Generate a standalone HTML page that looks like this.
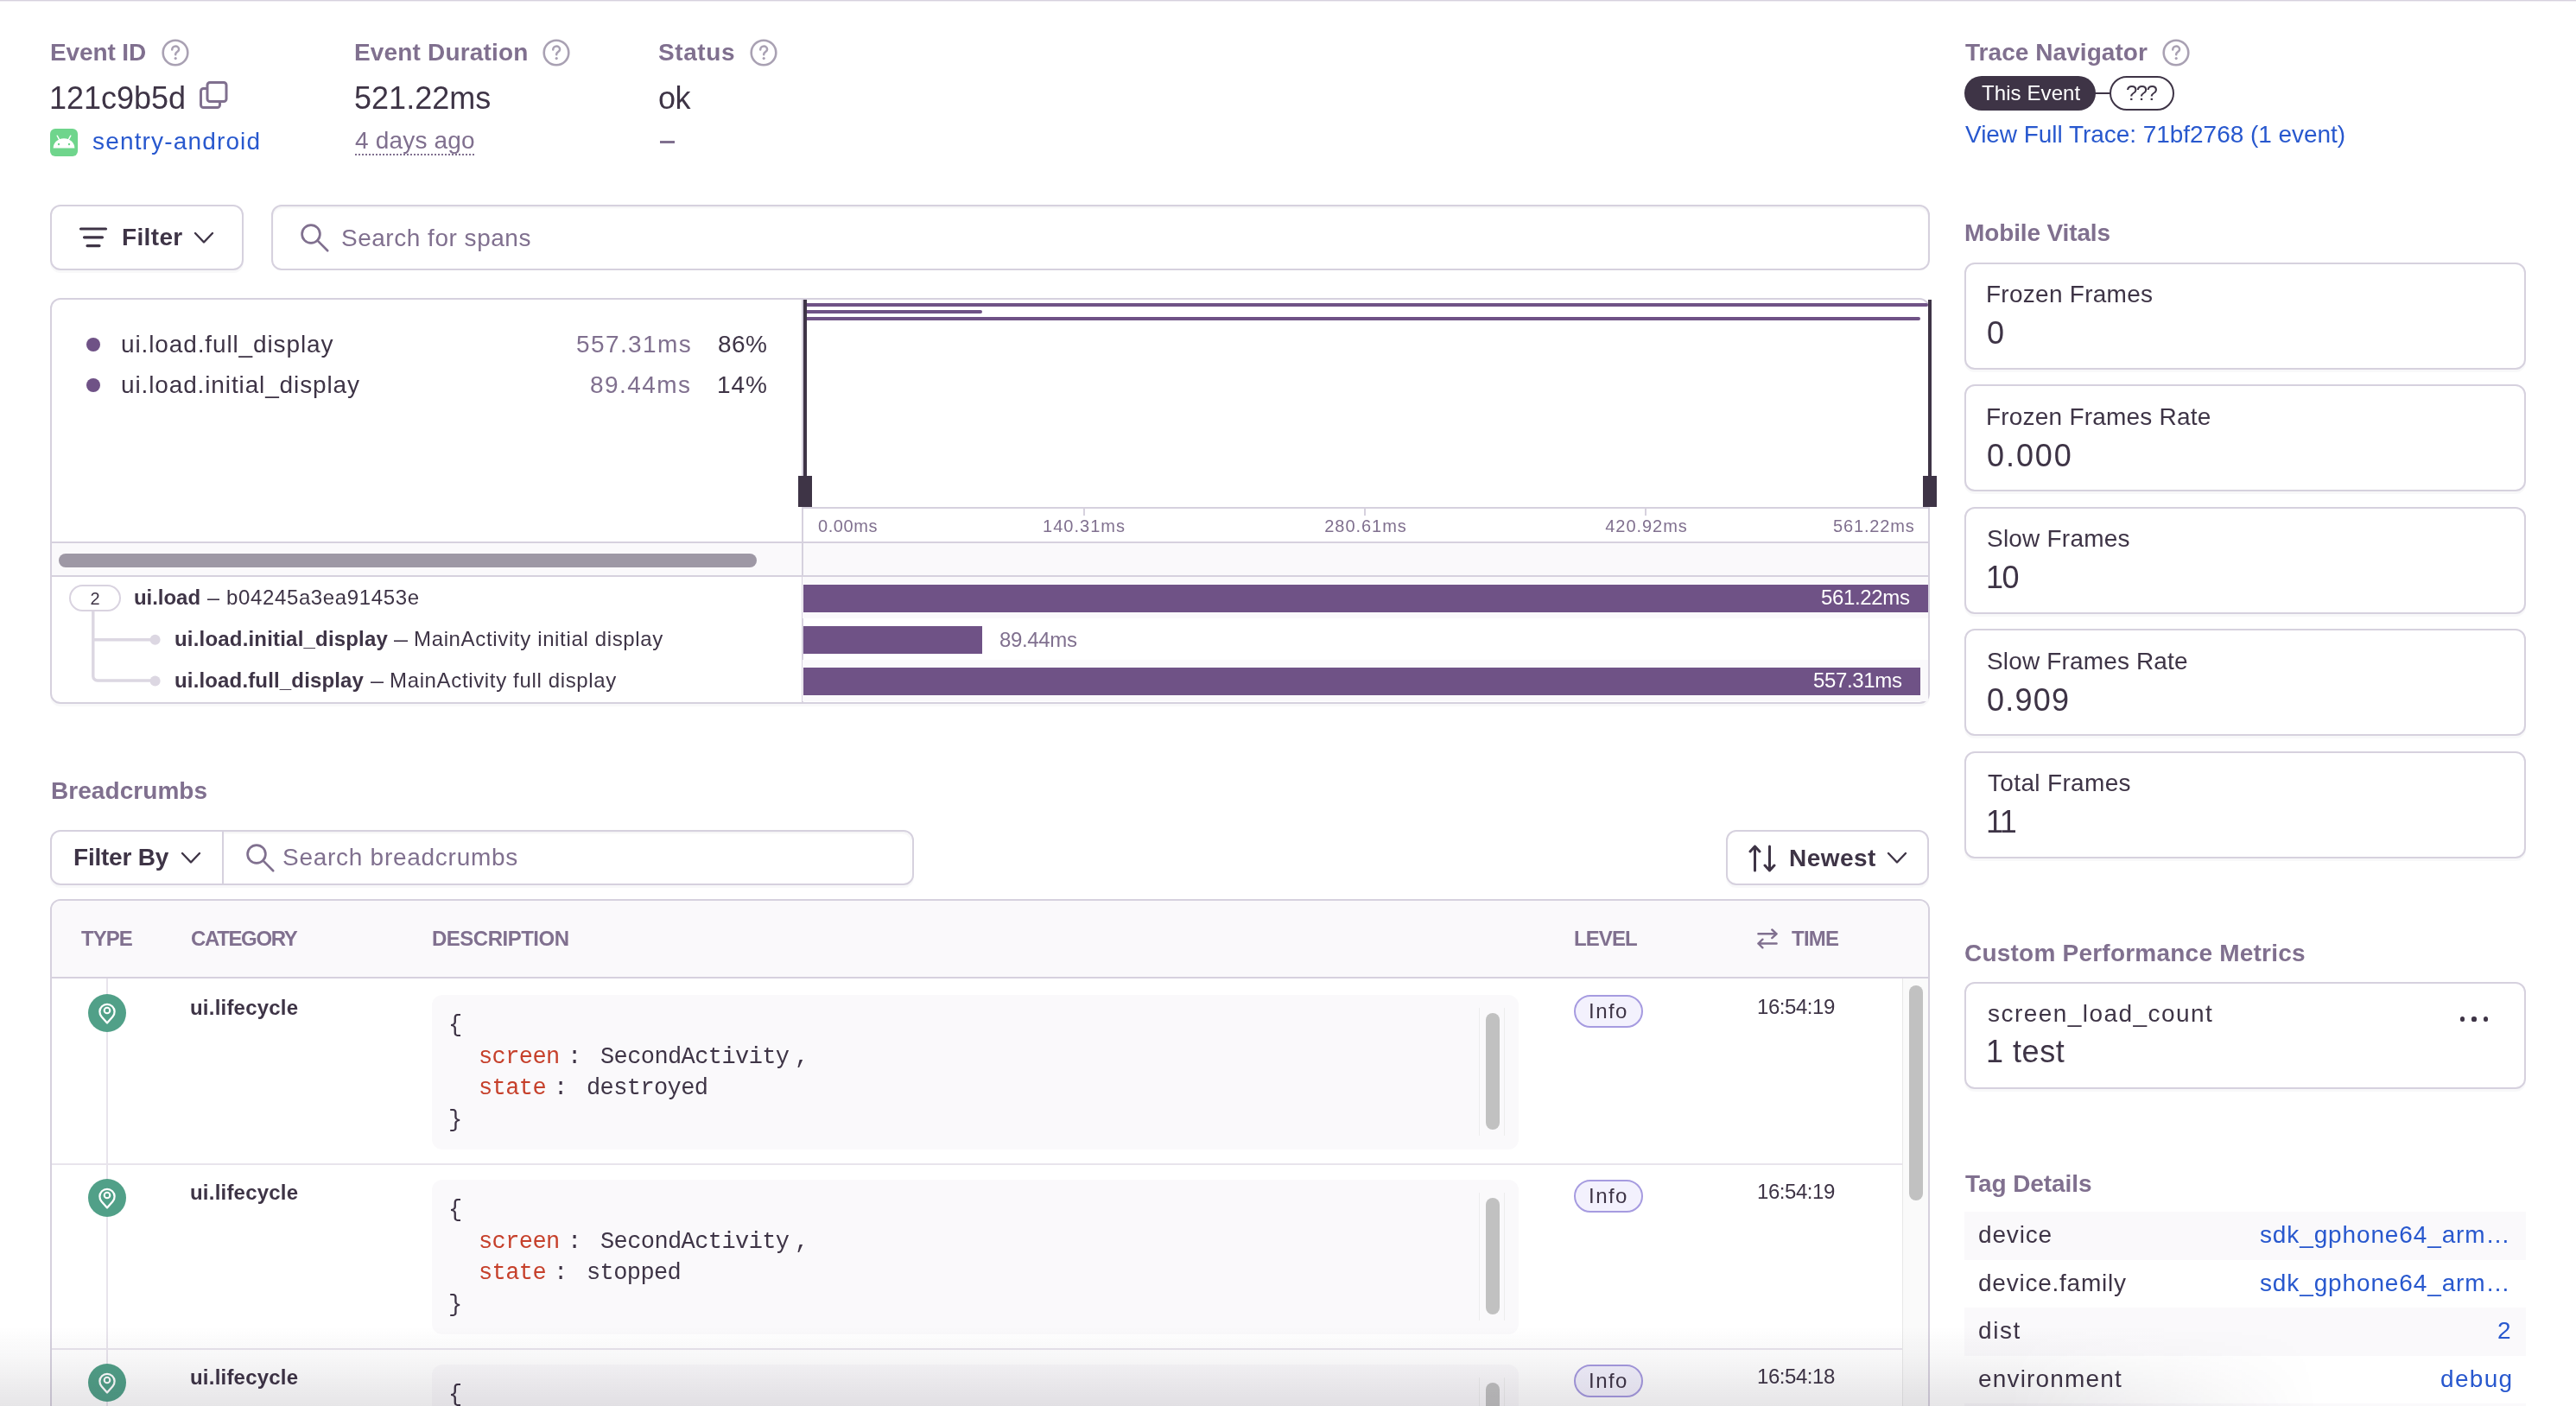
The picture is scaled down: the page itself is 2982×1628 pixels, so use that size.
<!DOCTYPE html>
<html><head><meta charset="utf-8"><title>Sentry transaction</title>
<style>
html,body{margin:0;padding:0;background:#fff;}
html{width:2982px;height:1628px;overflow:hidden;}
body{width:2982px;height:1628px;overflow:hidden;position:relative;font-family:'Liberation Sans', Arial, sans-serif;-webkit-font-smoothing:antialiased;}
.t{position:absolute;white-space:pre;will-change:transform;}
.b{position:absolute;}
</style></head><body>
<div class="b" style="left:0px;top:0px;width:2982px;height:1px;background:#D6D1DE"></div>
<div class="b" style="left:0px;top:1px;width:2982px;height:1px;background:#F1EEF4"></div>
<div class="t" id="h_eid" style="top:47.3px;font-size:28px;line-height:28px;font-weight:600;color:#80708F;font-family:'Liberation Sans', Arial, sans-serif;left:59px;letter-spacing:-0.115px;margin-left:-1.00px;">Event ID</div>
<svg class="b" style="left:187px;top:45px" width="32" height="32" viewBox="0 0 32 32"><circle cx="16" cy="16" r="14.3" fill="none" stroke="#A9A1B3" stroke-width="2.6"/><path d="M12.2 12.6c0-2.4 1.8-4.1 4-4.1s3.9 1.6 3.9 3.7c0 2.6-3.3 2.8-3.9 5.3v0.8" fill="none" stroke="#A9A1B3" stroke-width="2.5" stroke-linecap="round"/><circle cx="16.2" cy="22.6" r="1.6" fill="#A9A1B3"/></svg>
<div class="t" id="h_id" style="top:95.5px;font-size:36px;line-height:36px;font-weight:400;color:#3E3446;font-family:'Liberation Sans', Arial, sans-serif;left:59px;letter-spacing:-0.018px;margin-left:-2.00px;">121c9b5d</div>
<svg class="b" style="left:229px;top:92px" width="36" height="36" viewBox="0 0 36 36"><rect x="3.5" y="10.5" width="22" height="22" rx="3" fill="none" stroke="#80708F" stroke-width="3"/><rect x="11" y="3.5" width="22" height="22" rx="3" fill="#fff" stroke="#80708F" stroke-width="3"/></svg>
<svg class="b" style="left:58px;top:149px" width="32" height="32" viewBox="0 0 32 32"><rect x="0" y="0" width="32" height="32" rx="6" fill="#6FD58C"/><path d="M3.6 22.6 A12.4 11.4 0 0 1 28.4 22.6 Z" fill="#fff"/><path d="M8.2 8.2 L10.6 12.6 M23.8 8.2 L21.4 12.6" stroke="#fff" stroke-width="1.4" stroke-linecap="round"/><circle cx="10" cy="18" r="1.2" fill="#6FD58C"/><circle cx="22" cy="18" r="1.2" fill="#6FD58C"/></svg>
<div class="t" id="h_proj" style="top:150.3px;font-size:28px;line-height:28px;font-weight:400;color:#2858CE;font-family:'Liberation Sans', Arial, sans-serif;left:107px;letter-spacing:1.161px;">sentry-android</div>
<div class="t" id="h_dur" style="top:47.3px;font-size:28px;line-height:28px;font-weight:600;color:#80708F;font-family:'Liberation Sans', Arial, sans-serif;left:411px;letter-spacing:0.175px;margin-left:-1.00px;">Event Duration</div>
<svg class="b" style="left:628px;top:45px" width="32" height="32" viewBox="0 0 32 32"><circle cx="16" cy="16" r="14.3" fill="none" stroke="#A9A1B3" stroke-width="2.6"/><path d="M12.2 12.6c0-2.4 1.8-4.1 4-4.1s3.9 1.6 3.9 3.7c0 2.6-3.3 2.8-3.9 5.3v0.8" fill="none" stroke="#A9A1B3" stroke-width="2.5" stroke-linecap="round"/><circle cx="16.2" cy="22.6" r="1.6" fill="#A9A1B3"/></svg>
<div class="t" id="h_durv" style="top:95.5px;font-size:36px;line-height:36px;font-weight:400;color:#3E3446;font-family:'Liberation Sans', Arial, sans-serif;left:411px;letter-spacing:0.029px;margin-left:-1.00px;">521.22ms</div>
<div class="t" id="h_ago" style="top:148.6px;font-size:28px;line-height:28px;font-weight:400;color:#80708F;font-family:'Liberation Sans', Arial, sans-serif;left:411px;letter-spacing:0.176px;text-decoration:underline dotted #80708F;text-decoration-thickness:2px;text-underline-offset:6px;">4 days ago</div>
<div class="t" id="h_st" style="top:47.3px;font-size:28px;line-height:28px;font-weight:600;color:#80708F;font-family:'Liberation Sans', Arial, sans-serif;left:762px;letter-spacing:0.600px;">Status</div>
<svg class="b" style="left:868px;top:45px" width="32" height="32" viewBox="0 0 32 32"><circle cx="16" cy="16" r="14.3" fill="none" stroke="#A9A1B3" stroke-width="2.6"/><path d="M12.2 12.6c0-2.4 1.8-4.1 4-4.1s3.9 1.6 3.9 3.7c0 2.6-3.3 2.8-3.9 5.3v0.8" fill="none" stroke="#A9A1B3" stroke-width="2.5" stroke-linecap="round"/><circle cx="16.2" cy="22.6" r="1.6" fill="#A9A1B3"/></svg>
<div class="t" id="h_ok" style="top:95.5px;font-size:36px;line-height:36px;font-weight:400;color:#3E3446;font-family:'Liberation Sans', Arial, sans-serif;left:763px;letter-spacing:-0.621px;margin-left:-1.00px;">ok</div>
<div class="b" style="left:764px;top:163px;width:17px;height:2.5px;background:#80708F"></div>
<div class="t" id="h_tn" style="top:47.3px;font-size:28px;line-height:28px;font-weight:600;color:#80708F;font-family:'Liberation Sans', Arial, sans-serif;left:2275px;letter-spacing:0.057px;">Trace Navigator</div>
<svg class="b" style="left:2503px;top:45px" width="32" height="32" viewBox="0 0 32 32"><circle cx="16" cy="16" r="14.3" fill="none" stroke="#A9A1B3" stroke-width="2.6"/><path d="M12.2 12.6c0-2.4 1.8-4.1 4-4.1s3.9 1.6 3.9 3.7c0 2.6-3.3 2.8-3.9 5.3v0.8" fill="none" stroke="#A9A1B3" stroke-width="2.5" stroke-linecap="round"/><circle cx="16.2" cy="22.6" r="1.6" fill="#A9A1B3"/></svg>
<div class="b" style="left:2274px;top:88px;width:152px;height:40px;background:#3E3446;border-radius:20px"></div>
<div class="t" id="h_this" style="top:95.7px;font-size:24px;line-height:24px;font-weight:400;color:#fff;font-family:'Liberation Sans', Arial, sans-serif;left:2293.5px;letter-spacing:0.088px;">This Event</div>
<div class="b" style="left:2425px;top:107px;width:19px;height:2px;background:#3E3446"></div>
<div class="b" style="left:2442px;top:88px;width:75px;height:40px;background:#fff;border:2px solid #3E3446;border-radius:20px;box-sizing:border-box"></div>
<div class="t" id="h_q" style="top:95.7px;font-size:24px;line-height:24px;font-weight:400;color:#3E3446;font-family:'Liberation Sans', Arial, sans-serif;left:2461px;letter-spacing:-1.598px;">???</div>
<div class="t" id="h_view" style="top:141.8px;font-size:28px;line-height:28px;font-weight:400;color:#2858CE;font-family:'Liberation Sans', Arial, sans-serif;left:2275px;letter-spacing:-0.041px;">View Full Trace: 71bf2768 (1 event)</div>
<div class="b" style="left:58px;top:237px;width:224px;height:76px;border:2px solid #D6D1DE;border-radius:12px;box-sizing:border-box;background:#fff;box-shadow:0 3px 1px rgba(43,34,51,0.03)"></div>
<svg class="b" style="left:90px;top:262px" width="36" height="26" viewBox="0 0 36 26"><path d="M3.5 3 H32.5 M7.5 12.8 H28.5 M11 22.6 H25" stroke="#3E3446" stroke-width="3.2" stroke-linecap="round"/></svg>
<div class="t" id="f_filter" style="top:261.3px;font-size:28px;line-height:28px;font-weight:600;color:#3E3446;font-family:'Liberation Sans', Arial, sans-serif;left:142px;letter-spacing:0.348px;margin-left:-1.00px;">Filter</div>
<svg class="b" style="left:224px;top:268px" width="24" height="14.5" viewBox="0 0 24 14.5"><path d="M2 2 L12.0 12.5 L22 2" fill="none" stroke="#3E3446" stroke-width="2.4" stroke-linecap="round" stroke-linejoin="round"/></svg>
<div class="b" style="left:314px;top:237px;width:1920px;height:76px;border:2px solid #D6D1DE;border-radius:12px;box-sizing:border-box;background:#fff;box-shadow:inset 0 2px 2px rgba(43,34,51,0.05)"></div>
<svg class="b" style="left:346px;top:258px" width="36" height="36" viewBox="0 0 36 36"><circle cx="14" cy="13" r="10.4" fill="none" stroke="#80708F" stroke-width="2.7"/><path d="M21.4 20.4 L33.2 32.2" stroke="#80708F" stroke-width="2.7" stroke-linecap="round"/></svg>
<div class="t" id="f_search" style="top:262.3px;font-size:28px;line-height:28px;font-weight:400;color:#80708F;font-family:'Liberation Sans', Arial, sans-serif;left:396px;letter-spacing:0.515px;margin-left:-1.00px;">Search for spans</div>
<div class="b" style="left:58px;top:345px;width:2176px;height:470px;border:2px solid #D6D1DE;border-radius:12px;box-sizing:border-box;background:#fff;box-shadow:0 3px 1px rgba(43,34,51,0.03)"></div>
<div class="b" style="left:100px;top:391px;width:16px;height:16px;background:#6F5286;border-radius:50%"></div>
<div class="t" id="l_n1" style="top:384.8px;font-size:28px;line-height:28px;font-weight:400;color:#3E3446;font-family:'Liberation Sans', Arial, sans-serif;left:141px;letter-spacing:0.878px;margin-left:-1.00px;">ui.load.full_display</div>
<div class="t" id="l_d1" style="top:384.8px;font-size:28px;line-height:28px;font-weight:400;color:#80708F;font-family:'Liberation Sans', Arial, sans-serif;right:2183.5px;letter-spacing:1.405px;margin-right:-2.41px;">557.31ms</div>
<div class="t" id="l_p1" style="top:384.8px;font-size:28px;line-height:28px;font-weight:400;color:#3E3446;font-family:'Liberation Sans', Arial, sans-serif;right:2095px;letter-spacing:0.428px;margin-right:-1.33px;">86%</div>
<div class="b" style="left:100px;top:438px;width:16px;height:16px;background:#6F5286;border-radius:50%"></div>
<div class="t" id="l_n2" style="top:431.8px;font-size:28px;line-height:28px;font-weight:400;color:#3E3446;font-family:'Liberation Sans', Arial, sans-serif;left:141px;letter-spacing:0.872px;margin-left:-1.00px;">ui.load.initial_display</div>
<div class="t" id="l_d2" style="top:431.8px;font-size:28px;line-height:28px;font-weight:400;color:#80708F;font-family:'Liberation Sans', Arial, sans-serif;right:2183.5px;letter-spacing:1.435px;margin-right:-2.44px;">89.44ms</div>
<div class="t" id="l_p2" style="top:431.8px;font-size:28px;line-height:28px;font-weight:400;color:#3E3446;font-family:'Liberation Sans', Arial, sans-serif;right:2095px;letter-spacing:0.928px;margin-right:-1.83px;">14%</div>
<div class="b" style="left:929px;top:587px;width:1303px;height:2px;background:#D6D1DE"></div>
<div class="b" style="left:60px;top:627px;width:2172px;height:2px;background:#D6D1DE"></div>
<div class="b" style="left:60px;top:629px;width:2172px;height:38px;background:#FAF9FB"></div>
<div class="b" style="left:60px;top:666px;width:2172px;height:2px;background:#D6D1DE"></div>
<div class="b" style="left:928px;top:347px;width:2px;height:466px;background:#D6D1DE"></div>
<div class="b" style="left:68px;top:641px;width:808px;height:16px;background:#9E98A5;border-radius:8px"></div>
<div class="b" style="left:933px;top:351px;width:1299px;height:4px;background:#6F5286;border-radius:0 2px 2px 0"></div>
<div class="b" style="left:933px;top:359px;width:204px;height:4px;background:#6F5286;border-radius:0 2px 2px 0"></div>
<div class="b" style="left:933px;top:367px;width:1290px;height:4px;background:#6F5286;border-radius:0 2px 2px 0"></div>
<div class="b" style="left:930px;top:347px;width:4px;height:205px;background:#3E3446"></div>
<div class="b" style="left:924px;top:551px;width:16px;height:36px;background:#3E3446"></div>
<div class="b" style="left:2232px;top:347px;width:4px;height:205px;background:#3E3446"></div>
<div class="b" style="left:2226px;top:551px;width:16px;height:36px;background:#3E3446"></div>
<div class="b" style="left:1254px;top:589px;width:2px;height:8px;background:#D6D1DE"></div>
<div class="b" style="left:1579px;top:589px;width:2px;height:8px;background:#D6D1DE"></div>
<div class="b" style="left:1904px;top:589px;width:2px;height:8px;background:#D6D1DE"></div>
<div class="t" id="ax0" style="top:598.6px;font-size:20px;line-height:20px;font-weight:400;color:#80708F;font-family:'Liberation Sans', Arial, sans-serif;left:947px;letter-spacing:0.563px;">0.00ms</div>
<div class="t" id="ax1" style="top:598.6px;font-size:20px;line-height:20px;font-weight:400;color:#80708F;font-family:'Liberation Sans', Arial, sans-serif;left:1255px;transform:translateX(-50%);letter-spacing:1.024px;">140.31ms</div>
<div class="t" id="ax2" style="top:598.6px;font-size:20px;line-height:20px;font-weight:400;color:#80708F;font-family:'Liberation Sans', Arial, sans-serif;left:1580.5px;transform:translateX(-50%);letter-spacing:0.953px;">280.61ms</div>
<div class="t" id="ax3" style="top:598.6px;font-size:20px;line-height:20px;font-weight:400;color:#80708F;font-family:'Liberation Sans', Arial, sans-serif;left:1906px;transform:translateX(-50%);letter-spacing:0.953px;">420.92ms</div>
<div class="t" id="ax4" style="top:598.6px;font-size:20px;line-height:20px;font-weight:400;color:#80708F;font-family:'Liberation Sans', Arial, sans-serif;right:766.5px;letter-spacing:0.853px;margin-right:-0.85px;">561.22ms</div>
<div class="b" style="left:929px;top:668px;width:1303px;height:48px;background:#FAF9FB"></div>
<div class="b" style="left:929px;top:764px;width:1303px;height:48px;background:#FAF9FB"></div>
<div class="b" style="left:930px;top:677px;width:1302px;height:32px;background:#6F5286"></div>
<div class="b" style="left:930px;top:725px;width:207px;height:32px;background:#6F5286"></div>
<div class="b" style="left:930px;top:773px;width:1293px;height:32px;background:#6F5286"></div>
<div class="t" id="sb1" style="top:680.2px;font-size:24px;line-height:24px;font-weight:400;color:#fff;font-family:'Liberation Sans', Arial, sans-serif;right:771px;letter-spacing:-0.343px;margin-right:0.34px;">561.22ms</div>
<div class="t" id="sb2" style="top:728.7px;font-size:24px;line-height:24px;font-weight:400;color:#80708F;font-family:'Liberation Sans', Arial, sans-serif;left:1158px;letter-spacing:-0.342px;margin-left:-1.00px;">89.44ms</div>
<div class="t" id="sb3" style="top:776.2px;font-size:24px;line-height:24px;font-weight:400;color:#fff;font-family:'Liberation Sans', Arial, sans-serif;right:780px;letter-spacing:-0.343px;margin-right:0.34px;">557.31ms</div>
<div class="b" style="left:80px;top:677px;width:60px;height:31px;border:2px solid #D9D3E0;border-radius:16px;box-sizing:border-box;background:#fff"></div>
<div class="t" id="tr_c" style="top:683.1px;font-size:20px;line-height:20px;font-weight:400;color:#3E3446;font-family:'Liberation Sans', Arial, sans-serif;left:110px;transform:translateX(-50%);">2</div>
<div class="t" id="tr1b" style="top:679.7px;font-size:24px;line-height:24px;font-weight:600;color:#3E3446;font-family:'Liberation Sans', Arial, sans-serif;left:156.4px;letter-spacing:-0.045px;margin-left:-1.00px;">ui.load</div>
<div class="t" id="tr1d" style="top:679.7px;font-size:24px;line-height:24px;font-weight:400;color:#3E3446;font-family:'Liberation Sans', Arial, sans-serif;left:240px;transform-origin:0 0;transform:scaleX(0.604);">—</div>
<div class="t" id="tr1r" style="top:679.7px;font-size:24px;line-height:24px;font-weight:400;color:#3E3446;font-family:'Liberation Sans', Arial, sans-serif;left:262.8px;letter-spacing:0.632px;margin-left:-1.00px;">b04245a3ea91453e</div>
<svg class="b" style="left:104px;top:708px" width="82" height="88" viewBox="0 0 82 88"><path d="M3.8 0 V75 a5 5 0 0 0 5 5 H72 M3.8 32.7 H72" fill="none" stroke="#DCD7E2" stroke-width="3.4"/><circle cx="75.6" cy="32.7" r="6" fill="#DCD7E2"/><circle cx="75.6" cy="80.6" r="6" fill="#DCD7E2"/></svg>
<div class="t" id="tr2b" style="top:727.7px;font-size:24px;line-height:24px;font-weight:600;color:#3E3446;font-family:'Liberation Sans', Arial, sans-serif;left:202.6px;letter-spacing:0.188px;margin-left:-1.00px;">ui.load.initial_display</div>
<div class="t" id="tr2d" style="top:727.7px;font-size:24px;line-height:24px;font-weight:400;color:#3E3446;font-family:'Liberation Sans', Arial, sans-serif;left:456px;transform-origin:0 0;transform:scaleX(0.646);">—</div>
<div class="t" id="tr2r" style="top:727.7px;font-size:24px;line-height:24px;font-weight:400;color:#3E3446;font-family:'Liberation Sans', Arial, sans-serif;left:480.2px;letter-spacing:0.650px;margin-left:-1.00px;">MainActivity initial display</div>
<div class="t" id="tr3b" style="top:776.2px;font-size:24px;line-height:24px;font-weight:600;color:#3E3446;font-family:'Liberation Sans', Arial, sans-serif;left:202.6px;letter-spacing:0.153px;margin-left:-1.00px;">ui.load.full_display</div>
<div class="t" id="tr3d" style="top:776.2px;font-size:24px;line-height:24px;font-weight:400;color:#3E3446;font-family:'Liberation Sans', Arial, sans-serif;left:429px;transform-origin:0 0;transform:scaleX(0.612);">—</div>
<div class="t" id="tr3r" style="top:776.2px;font-size:24px;line-height:24px;font-weight:400;color:#3E3446;font-family:'Liberation Sans', Arial, sans-serif;left:452.2px;letter-spacing:0.648px;margin-left:-1.00px;">MainActivity full display</div>
<div class="t" id="bc_t" style="top:902.3px;font-size:28px;line-height:28px;font-weight:600;color:#80708F;font-family:'Liberation Sans', Arial, sans-serif;left:60px;letter-spacing:0.056px;margin-left:-1.00px;">Breadcrumbs</div>
<div class="b" style="left:58px;top:961px;width:1000px;height:64px;border:2px solid #D6D1DE;border-radius:12px;box-sizing:border-box;background:#fff;box-shadow:0 3px 1px rgba(43,34,51,0.03)"></div>
<div class="b" style="left:259px;top:963px;width:796px;height:60px;box-shadow:inset 0 2px 2px rgba(43,34,51,0.05);border-radius:0 10px 10px 0"></div>
<div class="b" style="left:257px;top:963px;width:2px;height:60px;background:#D6D1DE"></div>
<div class="t" id="bc_fb" style="top:979.3px;font-size:28px;line-height:28px;font-weight:600;color:#3E3446;font-family:'Liberation Sans', Arial, sans-serif;left:86px;letter-spacing:-0.219px;margin-left:-1.00px;">Filter By</div>
<svg class="b" style="left:209px;top:986px" width="24" height="14.5" viewBox="0 0 24 14.5"><path d="M2 2 L12.0 12.5 L22 2" fill="none" stroke="#3E3446" stroke-width="2.4" stroke-linecap="round" stroke-linejoin="round"/></svg>
<svg class="b" style="left:283px;top:976px" width="36" height="36" viewBox="0 0 36 36"><circle cx="14" cy="13" r="10.4" fill="none" stroke="#80708F" stroke-width="2.7"/><path d="M21.4 20.4 L33.2 32.2" stroke="#80708F" stroke-width="2.7" stroke-linecap="round"/></svg>
<div class="t" id="bc_s" style="top:978.8px;font-size:28px;line-height:28px;font-weight:400;color:#80708F;font-family:'Liberation Sans', Arial, sans-serif;left:327.5px;letter-spacing:0.729px;margin-left:-1.00px;">Search breadcrumbs</div>
<div class="b" style="left:1998px;top:961px;width:235px;height:64px;border:2px solid #D6D1DE;border-radius:12px;box-sizing:border-box;background:#fff;box-shadow:0 3px 1px rgba(43,34,51,0.03)"></div>
<svg class="b" style="left:2023.5px;top:976.5px" width="36" height="34" viewBox="0 0 36 34"><path d="M7.5 31 V3 M2 9 L7.5 3 L13 9 M24.5 3 V31 M19 25 L24.5 31 L30 25" fill="none" stroke="#3E3446" stroke-width="3" stroke-linecap="round" stroke-linejoin="round"/></svg>
<div class="t" id="bc_new" style="top:979.8px;font-size:28px;line-height:28px;font-weight:600;color:#3E3446;font-family:'Liberation Sans', Arial, sans-serif;left:2072px;letter-spacing:0.457px;margin-left:-1.00px;">Newest</div>
<svg class="b" style="left:2184px;top:986px" width="24" height="14.5" viewBox="0 0 24 14.5"><path d="M2 2 L12.0 12.5 L22 2" fill="none" stroke="#3E3446" stroke-width="2.4" stroke-linecap="round" stroke-linejoin="round"/></svg>
<div class="b" style="left:58px;top:1041px;width:2176px;height:600px;border:2px solid #D6D1DE;border-radius:12px;box-sizing:border-box;background:#fff;overflow:hidden"></div>
<div class="b" style="left:60px;top:1043px;width:2172px;height:88px;background:#FAF9FB;border-radius:10px 10px 0 0"></div>
<div class="b" style="left:60px;top:1131px;width:2172px;height:2px;background:#D6D1DE"></div>
<div class="t" id="th1" style="top:1074.7px;font-size:24px;line-height:24px;font-weight:600;color:#80708F;font-family:'Liberation Sans', Arial, sans-serif;left:94px;letter-spacing:-0.992px;">TYPE</div>
<div class="t" id="th2" style="top:1074.7px;font-size:24px;line-height:24px;font-weight:600;color:#80708F;font-family:'Liberation Sans', Arial, sans-serif;left:221px;letter-spacing:-1.361px;">CATEGORY</div>
<div class="t" id="th3" style="top:1074.7px;font-size:24px;line-height:24px;font-weight:600;color:#80708F;font-family:'Liberation Sans', Arial, sans-serif;left:501px;letter-spacing:-0.498px;margin-left:-1.00px;">DESCRIPTION</div>
<div class="t" id="th4" style="top:1074.7px;font-size:24px;line-height:24px;font-weight:600;color:#80708F;font-family:'Liberation Sans', Arial, sans-serif;left:1823px;letter-spacing:-0.921px;margin-left:-1.00px;">LEVEL</div>
<svg class="b" style="left:2033px;top:1075px" width="26" height="24" viewBox="0 0 26 24"><path d="M2.4 6.3 H23.6 M18.3 1.5 L23.6 6.3 L18.3 11.1 M23.6 17.5 H2.4 M7.4 12.7 L2.4 17.5 L7.4 22.3" fill="none" stroke="#80708F" stroke-width="2.4" stroke-linecap="round" stroke-linejoin="round"/></svg>
<div class="t" id="th5" style="top:1074.7px;font-size:24px;line-height:24px;font-weight:600;color:#80708F;font-family:'Liberation Sans', Arial, sans-serif;left:2074px;letter-spacing:-0.773px;">TIME</div>
<div class="b" style="left:123px;top:1133px;width:2px;height:500px;background:#E8E4EC"></div>
<div class="b" style="left:2202px;top:1133px;width:1px;height:500px;background:#E8E8E8"></div>
<div class="b" style="left:2203px;top:1133px;width:29px;height:500px;background:#FAFAFA"></div>
<div class="b" style="left:2210px;top:1141px;width:16px;height:249px;background:#C1C1C1;border-radius:8px"></div>
<div class="b" style="left:102px;top:1151px;width:44px;height:44px;background:#fff;border-radius:50%"></div>
<svg class="b" style="left:102px;top:1151px" width="44" height="44" viewBox="0 0 44 44"><circle cx="22" cy="22" r="22" fill="#51A088"/><path d="M22 33.5 L15.6 26.2 A8.6 8.6 0 1 1 28.4 26.2 Z" fill="none" stroke="#fff" stroke-width="2.3" stroke-linejoin="round"/><circle cx="22" cy="19" r="3.3" fill="none" stroke="#fff" stroke-width="2.1"/></svg>
<div class="t" id="r0_cat" style="top:1154.7px;font-size:24px;line-height:24px;font-weight:600;color:#3E3446;font-family:'Liberation Sans', Arial, sans-serif;left:221px;letter-spacing:0.211px;margin-left:-1.00px;">ui.lifecycle</div>
<div class="b" style="left:500px;top:1151.5px;width:1258px;height:179px;background:#FAF9FB;border-radius:12px"></div>
<div class="b" style="left:1712px;top:1167px;width:1px;height:148px;background:#EDEDED"></div>
<div class="b" style="left:1741px;top:1167px;width:1px;height:148px;background:#EDEDED"></div>
<div class="b" style="left:1720px;top:1173px;width:16px;height:135px;background:#C1C1C1;border-radius:8px"></div>
<div class="t" id="r0_b1" style="top:1173.7px;font-size:27px;line-height:27px;font-weight:400;color:#3E3446;font-family:'Liberation Mono', 'DejaVu Sans Mono', monospace;left:518.5px;letter-spacing:-0.6px;">{</div>
<div class="t" id="r0_k1" style="top:1210.5px;font-size:27px;line-height:27px;font-weight:400;color:#C6402B;font-family:'Liberation Mono', 'DejaVu Sans Mono', monospace;left:553.5px;letter-spacing:-0.6px;">screen</div>
<div class="t" id="r0_c1" style="top:1210.5px;font-size:27px;line-height:27px;font-weight:400;color:#3E3446;font-family:'Liberation Mono', 'DejaVu Sans Mono', monospace;left:657.1px;letter-spacing:-0.6px;">:</div>
<div class="t" id="r0_v1" style="top:1210.5px;font-size:27px;line-height:27px;font-weight:400;color:#3E3446;font-family:'Liberation Mono', 'DejaVu Sans Mono', monospace;left:694.5px;letter-spacing:-0.6px;">SecondActivity</div>
<div class="t" id="r0_m1" style="top:1210.5px;font-size:27px;line-height:27px;font-weight:400;color:#3E3446;font-family:'Liberation Mono', 'DejaVu Sans Mono', monospace;left:919.5px;letter-spacing:-0.6px;">,</div>
<div class="t" id="r0_k2" style="top:1247.3px;font-size:27px;line-height:27px;font-weight:400;color:#C6402B;font-family:'Liberation Mono', 'DejaVu Sans Mono', monospace;left:553.5px;letter-spacing:-0.6px;">state</div>
<div class="t" id="r0_c2" style="top:1247.3px;font-size:27px;line-height:27px;font-weight:400;color:#3E3446;font-family:'Liberation Mono', 'DejaVu Sans Mono', monospace;left:640.6px;letter-spacing:-0.6px;">:</div>
<div class="t" id="r0_v2" style="top:1247.3px;font-size:27px;line-height:27px;font-weight:400;color:#3E3446;font-family:'Liberation Mono', 'DejaVu Sans Mono', monospace;left:678.8px;letter-spacing:-0.6px;">destroyed</div>
<div class="t" id="r0_b2" style="top:1284.1px;font-size:27px;line-height:27px;font-weight:400;color:#3E3446;font-family:'Liberation Mono', 'DejaVu Sans Mono', monospace;left:518.5px;letter-spacing:-0.6px;">}</div>
<div class="b" style="left:1822px;top:1151.5px;width:80px;height:38px;border:2px solid #A69BE0;border-radius:19px;box-sizing:border-box;background:#F3F1FD"></div>
<div class="t" id="r0_info" style="top:1158.7px;font-size:24px;line-height:24px;font-weight:400;color:#3E3446;font-family:'Liberation Sans', Arial, sans-serif;left:1862px;transform:translateX(-50%);letter-spacing:1.439px;">Info</div>
<div class="t" id="r0_tm" style="top:1154.3px;font-size:24px;line-height:24px;font-weight:400;color:#3E3446;font-family:'Liberation Sans', Arial, sans-serif;left:2034.5px;letter-spacing:-0.439px;margin-left:-1.00px;">16:54:19</div>
<div class="b" style="left:60px;top:1346.5px;width:2142px;height:2px;background:#E8E4EC"></div>
<div class="b" style="left:102px;top:1365px;width:44px;height:44px;background:#fff;border-radius:50%"></div>
<svg class="b" style="left:102px;top:1365px" width="44" height="44" viewBox="0 0 44 44"><circle cx="22" cy="22" r="22" fill="#51A088"/><path d="M22 33.5 L15.6 26.2 A8.6 8.6 0 1 1 28.4 26.2 Z" fill="none" stroke="#fff" stroke-width="2.3" stroke-linejoin="round"/><circle cx="22" cy="19" r="3.3" fill="none" stroke="#fff" stroke-width="2.1"/></svg>
<div class="t" id="r1_cat" style="top:1368.7px;font-size:24px;line-height:24px;font-weight:600;color:#3E3446;font-family:'Liberation Sans', Arial, sans-serif;left:221px;letter-spacing:0.211px;margin-left:-1.00px;">ui.lifecycle</div>
<div class="b" style="left:500px;top:1365.5px;width:1258px;height:179px;background:#FAF9FB;border-radius:12px"></div>
<div class="b" style="left:1712px;top:1381px;width:1px;height:148px;background:#EDEDED"></div>
<div class="b" style="left:1741px;top:1381px;width:1px;height:148px;background:#EDEDED"></div>
<div class="b" style="left:1720px;top:1387px;width:16px;height:135px;background:#C1C1C1;border-radius:8px"></div>
<div class="t" id="r1_b1" style="top:1387.7px;font-size:27px;line-height:27px;font-weight:400;color:#3E3446;font-family:'Liberation Mono', 'DejaVu Sans Mono', monospace;left:518.5px;letter-spacing:-0.6px;">{</div>
<div class="t" id="r1_k1" style="top:1424.5px;font-size:27px;line-height:27px;font-weight:400;color:#C6402B;font-family:'Liberation Mono', 'DejaVu Sans Mono', monospace;left:553.5px;letter-spacing:-0.6px;">screen</div>
<div class="t" id="r1_c1" style="top:1424.5px;font-size:27px;line-height:27px;font-weight:400;color:#3E3446;font-family:'Liberation Mono', 'DejaVu Sans Mono', monospace;left:657.1px;letter-spacing:-0.6px;">:</div>
<div class="t" id="r1_v1" style="top:1424.5px;font-size:27px;line-height:27px;font-weight:400;color:#3E3446;font-family:'Liberation Mono', 'DejaVu Sans Mono', monospace;left:694.5px;letter-spacing:-0.6px;">SecondActivity</div>
<div class="t" id="r1_m1" style="top:1424.5px;font-size:27px;line-height:27px;font-weight:400;color:#3E3446;font-family:'Liberation Mono', 'DejaVu Sans Mono', monospace;left:919.5px;letter-spacing:-0.6px;">,</div>
<div class="t" id="r1_k2" style="top:1461.3px;font-size:27px;line-height:27px;font-weight:400;color:#C6402B;font-family:'Liberation Mono', 'DejaVu Sans Mono', monospace;left:553.5px;letter-spacing:-0.6px;">state</div>
<div class="t" id="r1_c2" style="top:1461.3px;font-size:27px;line-height:27px;font-weight:400;color:#3E3446;font-family:'Liberation Mono', 'DejaVu Sans Mono', monospace;left:640.6px;letter-spacing:-0.6px;">:</div>
<div class="t" id="r1_v2" style="top:1461.3px;font-size:27px;line-height:27px;font-weight:400;color:#3E3446;font-family:'Liberation Mono', 'DejaVu Sans Mono', monospace;left:678.8px;letter-spacing:-0.6px;">stopped</div>
<div class="t" id="r1_b2" style="top:1498.1px;font-size:27px;line-height:27px;font-weight:400;color:#3E3446;font-family:'Liberation Mono', 'DejaVu Sans Mono', monospace;left:518.5px;letter-spacing:-0.6px;">}</div>
<div class="b" style="left:1822px;top:1365.5px;width:80px;height:38px;border:2px solid #A69BE0;border-radius:19px;box-sizing:border-box;background:#F3F1FD"></div>
<div class="t" id="r1_info" style="top:1372.7px;font-size:24px;line-height:24px;font-weight:400;color:#3E3446;font-family:'Liberation Sans', Arial, sans-serif;left:1862px;transform:translateX(-50%);letter-spacing:1.439px;">Info</div>
<div class="t" id="r1_tm" style="top:1368.3px;font-size:24px;line-height:24px;font-weight:400;color:#3E3446;font-family:'Liberation Sans', Arial, sans-serif;left:2034.5px;letter-spacing:-0.439px;margin-left:-1.00px;">16:54:19</div>
<div class="b" style="left:60px;top:1561px;width:2142px;height:2px;background:#E8E4EC"></div>
<div class="b" style="left:102px;top:1579px;width:44px;height:44px;background:#fff;border-radius:50%"></div>
<svg class="b" style="left:102px;top:1579px" width="44" height="44" viewBox="0 0 44 44"><circle cx="22" cy="22" r="22" fill="#51A088"/><path d="M22 33.5 L15.6 26.2 A8.6 8.6 0 1 1 28.4 26.2 Z" fill="none" stroke="#fff" stroke-width="2.3" stroke-linejoin="round"/><circle cx="22" cy="19" r="3.3" fill="none" stroke="#fff" stroke-width="2.1"/></svg>
<div class="t" id="r2_cat" style="top:1582.7px;font-size:24px;line-height:24px;font-weight:600;color:#3E3446;font-family:'Liberation Sans', Arial, sans-serif;left:221px;letter-spacing:0.211px;margin-left:-1.00px;">ui.lifecycle</div>
<div class="b" style="left:500px;top:1579.5px;width:1258px;height:179px;background:#FAF9FB;border-radius:12px"></div>
<div class="b" style="left:1712px;top:1595px;width:1px;height:148px;background:#EDEDED"></div>
<div class="b" style="left:1741px;top:1595px;width:1px;height:148px;background:#EDEDED"></div>
<div class="b" style="left:1720px;top:1601px;width:16px;height:135px;background:#C1C1C1;border-radius:8px"></div>
<div class="t" id="r2_b1" style="top:1601.7px;font-size:27px;line-height:27px;font-weight:400;color:#3E3446;font-family:'Liberation Mono', 'DejaVu Sans Mono', monospace;left:518.5px;letter-spacing:-0.6px;">{</div>
<div class="b" style="left:1822px;top:1579.5px;width:80px;height:38px;border:2px solid #A69BE0;border-radius:19px;box-sizing:border-box;background:#F3F1FD"></div>
<div class="t" id="r2_info" style="top:1586.7px;font-size:24px;line-height:24px;font-weight:400;color:#3E3446;font-family:'Liberation Sans', Arial, sans-serif;left:1862px;transform:translateX(-50%);letter-spacing:1.439px;">Info</div>
<div class="t" id="r2_tm" style="top:1582.3px;font-size:24px;line-height:24px;font-weight:400;color:#3E3446;font-family:'Liberation Sans', Arial, sans-serif;left:2034.5px;letter-spacing:-0.439px;margin-left:-1.00px;">16:54:18</div>
<div class="t" id="mv_t" style="top:256.3px;font-size:28px;line-height:28px;font-weight:600;color:#80708F;font-family:'Liberation Sans', Arial, sans-serif;left:2275px;letter-spacing:-0.131px;margin-left:-1.00px;">Mobile Vitals</div>
<div class="b" style="left:2274px;top:303.5px;width:650px;height:124px;border:2px solid #D6D1DE;border-radius:12px;box-sizing:border-box;background:#fff;box-shadow:0 3px 1px rgba(43,34,51,0.03)"></div>
<div class="t" id="c0_l" style="top:327.3px;font-size:28px;line-height:28px;font-weight:400;color:#3E3446;font-family:'Liberation Sans', Arial, sans-serif;left:2301px;letter-spacing:0.265px;margin-left:-2.00px;">Frozen Frames</div>
<div class="t" id="c0_v" style="top:368.4px;font-size:36px;line-height:36px;font-weight:400;color:#3E3446;font-family:'Liberation Sans', Arial, sans-serif;left:2301px;margin-left:-1.00px;">0</div>
<div class="b" style="left:2274px;top:445.0px;width:650px;height:124px;border:2px solid #D6D1DE;border-radius:12px;box-sizing:border-box;background:#fff;box-shadow:0 3px 1px rgba(43,34,51,0.03)"></div>
<div class="t" id="c1_l" style="top:468.8px;font-size:28px;line-height:28px;font-weight:400;color:#3E3446;font-family:'Liberation Sans', Arial, sans-serif;left:2301px;letter-spacing:0.208px;margin-left:-2.00px;">Frozen Frames Rate</div>
<div class="t" id="c1_v" style="top:509.9px;font-size:36px;line-height:36px;font-weight:400;color:#3E3446;font-family:'Liberation Sans', Arial, sans-serif;left:2301px;letter-spacing:1.933px;margin-left:-1.00px;">0.000</div>
<div class="b" style="left:2274px;top:586.5px;width:650px;height:124px;border:2px solid #D6D1DE;border-radius:12px;box-sizing:border-box;background:#fff;box-shadow:0 3px 1px rgba(43,34,51,0.03)"></div>
<div class="t" id="c2_l" style="top:610.3px;font-size:28px;line-height:28px;font-weight:400;color:#3E3446;font-family:'Liberation Sans', Arial, sans-serif;left:2301px;letter-spacing:0.213px;margin-left:-1.00px;">Slow Frames</div>
<div class="t" id="c2_v" style="top:651.4px;font-size:36px;line-height:36px;font-weight:400;color:#3E3446;font-family:'Liberation Sans', Arial, sans-serif;left:2301px;letter-spacing:-1.521px;margin-left:-2.00px;">10</div>
<div class="b" style="left:2274px;top:728.0px;width:650px;height:124px;border:2px solid #D6D1DE;border-radius:12px;box-sizing:border-box;background:#fff;box-shadow:0 3px 1px rgba(43,34,51,0.03)"></div>
<div class="t" id="c3_l" style="top:751.8px;font-size:28px;line-height:28px;font-weight:400;color:#3E3446;font-family:'Liberation Sans', Arial, sans-serif;left:2301px;letter-spacing:0.152px;margin-left:-1.00px;">Slow Frames Rate</div>
<div class="t" id="c3_v" style="top:792.9px;font-size:36px;line-height:36px;font-weight:400;color:#3E3446;font-family:'Liberation Sans', Arial, sans-serif;left:2301px;letter-spacing:1.233px;margin-left:-1.00px;">0.909</div>
<div class="b" style="left:2274px;top:869.5px;width:650px;height:124px;border:2px solid #D6D1DE;border-radius:12px;box-sizing:border-box;background:#fff;box-shadow:0 3px 1px rgba(43,34,51,0.03)"></div>
<div class="t" id="c4_l" style="top:893.3px;font-size:28px;line-height:28px;font-weight:400;color:#3E3446;font-family:'Liberation Sans', Arial, sans-serif;left:2301px;letter-spacing:0.344px;">Total Frames</div>
<div class="t" id="c4_v" style="top:934.4px;font-size:36px;line-height:36px;font-weight:400;color:#3E3446;font-family:'Liberation Sans', Arial, sans-serif;left:2301px;letter-spacing:-1.600px;margin-left:-2.00px;">11</div>
<div class="t" id="cpm_t" style="top:1090.3px;font-size:28px;line-height:28px;font-weight:600;color:#80708F;font-family:'Liberation Sans', Arial, sans-serif;left:2275px;letter-spacing:0.223px;margin-left:-1.00px;">Custom Performance Metrics</div>
<div class="b" style="left:2274px;top:1137px;width:650px;height:124px;border:2px solid #D6D1DE;border-radius:12px;box-sizing:border-box;background:#fff;box-shadow:0 3px 1px rgba(43,34,51,0.03)"></div>
<div class="t" id="cpm_l" style="top:1159.8px;font-size:28px;line-height:28px;font-weight:400;color:#3E3446;font-family:'Liberation Sans', Arial, sans-serif;left:2301px;letter-spacing:1.448px;">screen_load_count</div>
<div class="t" id="cpm_v" style="top:1199.5px;font-size:36px;line-height:36px;font-weight:400;color:#3E3446;font-family:'Liberation Sans', Arial, sans-serif;left:2301px;letter-spacing:0.531px;margin-left:-2.00px;">1 test</div>
<div class="b" style="left:2847.9px;top:1177.4px;width:5.2px;height:5.2px;background:#3E3446;border-radius:50%"></div>
<div class="b" style="left:2861.4px;top:1177.4px;width:5.2px;height:5.2px;background:#3E3446;border-radius:50%"></div>
<div class="b" style="left:2874.9px;top:1177.4px;width:5.2px;height:5.2px;background:#3E3446;border-radius:50%"></div>
<div class="t" id="td_t" style="top:1357.3px;font-size:28px;line-height:28px;font-weight:600;color:#80708F;font-family:'Liberation Sans', Arial, sans-serif;left:2275px;letter-spacing:-0.073px;">Tag Details</div>
<div class="b" style="left:2274px;top:1403.0px;width:650px;height:55.5px;background:#FAF9FB"></div>
<div class="t" id="tg0_k" style="top:1416.3px;font-size:28px;line-height:28px;font-weight:400;color:#3E3446;font-family:'Liberation Sans', Arial, sans-serif;left:2290.5px;letter-spacing:0.847px;margin-left:-1.00px;">device</div>
<div class="t" id="tg0_v" style="top:1416.3px;font-size:28px;line-height:28px;font-weight:400;color:#2858CE;font-family:'Liberation Sans', Arial, sans-serif;right:79.5px;letter-spacing:0.874px;margin-right:-3.87px;">sdk_gphone64_arm…</div>
<div class="t" id="tg1_k" style="top:1471.8px;font-size:28px;line-height:28px;font-weight:400;color:#3E3446;font-family:'Liberation Sans', Arial, sans-serif;left:2290.5px;letter-spacing:0.764px;margin-left:-1.00px;">device.family</div>
<div class="t" id="tg1_v" style="top:1471.8px;font-size:28px;line-height:28px;font-weight:400;color:#2858CE;font-family:'Liberation Sans', Arial, sans-serif;right:79.5px;letter-spacing:0.874px;margin-right:-3.87px;">sdk_gphone64_arm…</div>
<div class="b" style="left:2274px;top:1514.0px;width:650px;height:55.5px;background:#FAF9FB"></div>
<div class="t" id="tg2_k" style="top:1527.3px;font-size:28px;line-height:28px;font-weight:400;color:#3E3446;font-family:'Liberation Sans', Arial, sans-serif;left:2290.5px;letter-spacing:1.569px;margin-left:-1.00px;">dist</div>
<div class="t" id="tg2_v" style="top:1527.3px;font-size:28px;line-height:28px;font-weight:400;color:#2858CE;font-family:'Liberation Sans', Arial, sans-serif;right:75.5px;margin-right:-0.57px;">2</div>
<div class="t" id="tg3_k" style="top:1582.8px;font-size:28px;line-height:28px;font-weight:400;color:#3E3446;font-family:'Liberation Sans', Arial, sans-serif;left:2290.5px;letter-spacing:1.170px;margin-left:-1.00px;">environment</div>
<div class="t" id="tg3_v" style="top:1582.8px;font-size:28px;line-height:28px;font-weight:400;color:#2858CE;font-family:'Liberation Sans', Arial, sans-serif;right:75.5px;letter-spacing:1.328px;margin-right:-2.90px;">debug</div>
<div class="b" style="left:2274px;top:1625px;width:650px;height:10px;background:#FAF9FB"></div>
<div class="b" style="left:0px;top:1536px;width:2982px;height:92px;background:linear-gradient(to bottom, rgba(30,20,40,0) 0%, rgba(30,20,40,0.035) 40%, rgba(30,20,40,0.11) 100%);-webkit-mask-image:linear-gradient(to right, #000 0%, #000 78%, transparent 90%);mask-image:linear-gradient(to right, #000 0%, #000 78%, transparent 90%);pointer-events:none"></div>
</body></html>
